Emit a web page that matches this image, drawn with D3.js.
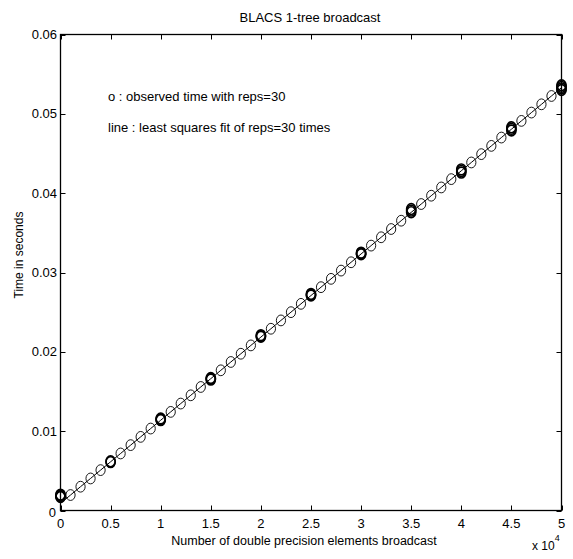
<!DOCTYPE html>
<html><head><meta charset="utf-8">
<script src="https://cdn.jsdelivr.net/npm/d3@7"></script>
<style>body{margin:0;background:#fff}svg{display:block}text{font-family:"Liberation Sans",Arial,Helvetica,sans-serif;fill:#000}</style>
</head><body>
<script>
// fit-line points (x in elements, every 1000)
const fitX = d3.range(0, 50001, 1000);
const fitTimes = [0.00090,0.00195,0.00300,0.00404,0.00509,0.00614,0.00719,0.00824,0.00928,0.01033,
0.01138,0.01243,0.01348,0.01452,0.01557,0.01662,0.01767,0.01872,0.01976,0.02081,
0.02186,0.02291,0.02396,0.02500,0.02605,0.02710,0.02815,0.02920,0.03024,0.03129,
0.03234,0.03339,0.03444,0.03548,0.03653,0.03758,0.03863,0.03968,0.04072,0.04177,
0.04282,0.04387,0.04492,0.04596,0.04701,0.04806,0.04911,0.05016,0.05120,0.05225,0.05330];
// observed times (several reps) at every 5000 elements
const obsX = [0,5000,10000,15000,20000,25000,30000,35000,40000,45000,50000];
const obsTimes = [
 [0.0017,0.0018,0.0019,0.0020],
 [0.0061,0.0062],
 [0.0114,0.0115,0.0116],
 [0.0165,0.0166,0.0167],
 [0.0219,0.0220,0.0221],
 [0.0271,0.0272,0.0273],
 [0.0323,0.0324,0.0325],
 [0.0376,0.0378,0.0380],
 [0.0426,0.0428,0.0430],
 [0.0479,0.0481,0.0483],
 [0.0530,0.0532,0.0534,0.0536]
];
const xTicks = [0,5000,10000,15000,20000,25000,30000,35000,40000,45000,50000];
const xTickLabels = ["0","0.5","1","1.5","2","2.5","3","3.5","4","4.5","5"];
const yTicks = [0,0.01,0.02,0.03,0.04,0.05,0.06];
const yTickLabels = ["0","0.01","0.02","0.03","0.04","0.05","0.06"];

const W=573,H=559, L=60.5, R=561.5, T=34.5, B=510.5;
const svg=d3.select("body").append("svg").attr("width",W).attr("height",H);
const x=d3.scaleLinear().domain([0,50000]).range([L,R]);
const y=d3.scaleLinear().domain([0,0.06]).range([B,T]);
const fs=13;

svg.append("rect").attr("x",L).attr("y",T).attr("width",R-L).attr("height",B-T)
  .attr("fill","none").attr("stroke","#000").attr("stroke-width",1.3);

const tl=5;
const g=svg.append("g").attr("stroke","#000").attr("stroke-width",1);
xTicks.forEach(v=>{const px=Math.round(x(v))+0.5;
  g.append("line").attr("x1",px).attr("x2",px).attr("y1",B).attr("y2",B-tl);
  g.append("line").attr("x1",px).attr("x2",px).attr("y1",T).attr("y2",T+tl);});
yTicks.forEach(v=>{const py=Math.round(y(v))+0.5;
  g.append("line").attr("y1",py).attr("y2",py).attr("x1",L).attr("x2",L+tl);
  g.append("line").attr("y1",py).attr("y2",py).attr("x1",R).attr("x2",R-tl);});

xTicks.forEach((v,i)=>svg.append("text").attr("x",x(v)).attr("y",528).attr("text-anchor","middle")
  .attr("font-size",fs).text(xTickLabels[i]));
yTicks.forEach((v,i)=>svg.append("text").attr("x",i===0?56:57).attr("y",i===0?y(v)+6:y(v)+4.5)
  .attr("text-anchor","end").attr("font-size",fs).text(yTickLabels[i]));

const ex=svg.append("text").attr("x",532).attr("y",550).attr("font-size",fs-1);
ex.append("tspan").text("x 10");
ex.append("tspan").attr("dy",-9).attr("font-size",9).text("4");

svg.append("text").attr("x",310).attr("y",22).attr("text-anchor","middle").attr("font-size",fs).text("BLACS 1-tree broadcast");
svg.append("text").attr("x",304).attr("y",545).attr("text-anchor","middle").attr("font-size",fs-0.5).text("Number of double precision elements broadcast");
svg.append("text").attr("transform","translate(23,255) rotate(-90)").attr("text-anchor","middle").attr("font-size",fs-1).text("Time in seconds");

svg.append("text").attr("x",108).attr("y",101).attr("font-size",fs).text("o : observed time with reps=30");
svg.append("text").attr("x",108).attr("y",132).attr("font-size",fs).text("line : least squares fit of reps=30 times");

svg.append("path").datum(fitX.map((d,i)=>[d,fitTimes[i]]))
  .attr("d",d3.line().x(d=>x(d[0])).y(d=>y(d[1])))
  .attr("fill","none").attr("stroke","#000").attr("stroke-width",1);

svg.append("g").selectAll("ellipse").data(fitX.map((d,i)=>[d,fitTimes[i]]).filter(d=>d[0]%5000!==0))
  .join("ellipse").attr("cx",d=>x(d[0])).attr("cy",d=>y(d[1])).attr("rx",4.6).attr("ry",5.4)
  .attr("fill","none").attr("stroke","#000").attr("stroke-width",0.9);

const obs=[];obsX.forEach((xv,i)=>obsTimes[i].forEach(t=>obs.push([xv,t])));
svg.append("g").selectAll("ellipse").data(obs)
  .join("ellipse").attr("cx",d=>x(d[0])).attr("cy",d=>y(d[1])).attr("rx",4.6).attr("ry",5.4)
  .attr("fill","none").attr("stroke","#000").attr("stroke-width",1.6);
</script>
</body></html>
